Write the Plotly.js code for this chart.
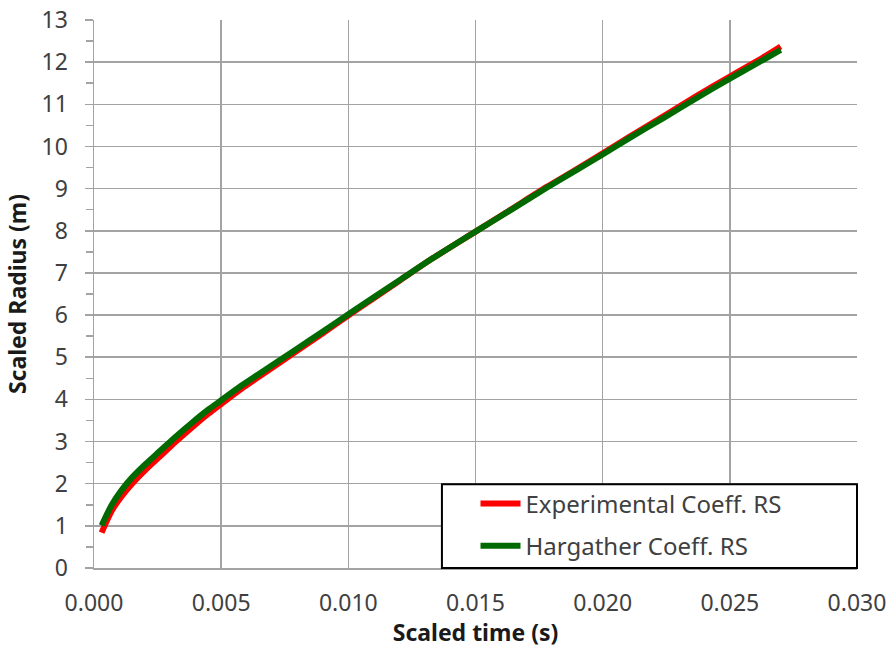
<!DOCTYPE html>
<html>
<head>
<meta charset="utf-8">
<script src="https://cdn.plot.ly/plotly-3.0.1.min.js"></script>
<style>html,body{margin:0;padding:0;background:#fff;}#chart{width:892px;height:648px;}</style>
</head>
<body>
<div id="chart"></div>
<script>
// Scaled time (s)
var timeS = [0.0003, 0.0007, 0.0011, 0.0015, 0.0020, 0.0026, 0.0032, 0.0039, 0.0045, 0.0050, 0.0058, 0.0065, 0.0080, 0.0090, 0.0100, 0.0110, 0.0120, 0.0133, 0.0150, 0.0163, 0.0178, 0.0190, 0.0200, 0.0210, 0.0224, 0.0237, 0.0250, 0.0263, 0.0270];
// Scaled radius (m) - Experimental Coeff. RS
var experimentalRS = [0.84, 1.36, 1.71, 2.00, 2.31, 2.65, 2.99, 3.36, 3.66, 3.89, 4.25, 4.54, 5.16, 5.57, 5.99, 6.40, 6.81, 7.34, 7.98, 8.47, 9.04, 9.47, 9.84, 10.21, 10.72, 11.20, 11.66, 12.11, 12.37];
// Scaled radius (m) - Hargather Coeff. RS
var hargatherRS = [1.01, 1.50, 1.86, 2.15, 2.45, 2.78, 3.11, 3.47, 3.76, 3.98, 4.33, 4.61, 5.21, 5.61, 6.02, 6.42, 6.82, 7.34, 7.98, 8.46, 9.02, 9.45, 9.81, 10.18, 10.68, 11.15, 11.61, 12.05, 12.29];
var seriesNames = ["Experimental Coeff. RS", "Hargather Coeff. RS"];
var xTickVals = [0, 0.005, 0.010, 0.015, 0.020, 0.025, 0.030];
var xTickText = ["0.000", "0.005", "0.010", "0.015", "0.020", "0.025", "0.030"];

var FONT = "Noto Sans, Open Sans, sans-serif";
var GRID = "#a3a3a3";

var traces = [
  {x: timeS, y: experimentalRS, name: seriesNames[0], mode: "lines", legendgroup: "a",
   line: {color: "#ff0000", width: 6, shape: "spline", smoothing: 0.8}},
  {x: timeS, y: hargatherRS, name: seriesNames[1], mode: "lines", legendgroup: "b",
   line: {color: "#006a00", width: 6, shape: "spline", smoothing: 0.8}}
];

var layout = {
  width: 892, height: 648,
  margin: {l: 94, r: 35, t: 20, b: 80},
  paper_bgcolor: "#ffffff", plot_bgcolor: "#ffffff",
  font: {family: FONT, color: "#404040", size: 23},
  showlegend: true,
  xaxis: {
    range: [0, 0.030], tickvals: xTickVals, ticktext: xTickText,
    showgrid: true, gridcolor: GRID, gridwidth: 1.5,
    showline: true, linecolor: GRID, linewidth: 1.5,
    ticks: "", ticklabelstandoff: 14, zeroline: false, mirror: false,
    tickfont: {family: FONT, size: 23, color: "#404040"},
    title: {text: "<b>Scaled time (s)</b>", font: {family: FONT, size: 23, color: "#1a1a1a"}, standoff: 4}
  },
  yaxis: {
    range: [0, 13], dtick: 1, tick0: 0,
    showgrid: true, gridcolor: GRID, gridwidth: 1.5,
    showline: true, linecolor: GRID, linewidth: 1.5,
    ticks: "outside", ticklen: 8, tickcolor: GRID, tickwidth: 1.5, ticklabelstandoff: 12,
    minor: {dtick: 0.5, ticks: "outside", ticklen: 7, tickcolor: GRID, tickwidth: 1.5, showgrid: false},
    zeroline: false,
    tickfont: {family: FONT, size: 23, color: "#404040"},
    title: {text: "<b>Scaled Radius (m)</b>", font: {family: FONT, size: 23, color: "#1a1a1a"}, standoff: 8}
  },
  shapes: [
    {type: "rect", xref: "paper", yref: "paper", x0: 0.456, x1: 1, y0: 0, y1: 0.153,
     line: {color: "#000000", width: 2}, fillcolor: "#ffffff", layer: "above"}
  ],
  legend: {
    x: 0.50, y: 0.158, xanchor: "left", yanchor: "top",
    bgcolor: "rgba(0,0,0,0)", borderwidth: 0,
    font: {family: FONT, size: 24, color: "#404040"},
    tracegroupgap: 8, itemwidth: 40
  }
};

Plotly.newPlot("chart", traces, layout, {displayModeBar: false, staticPlot: true});
</script>
</body>
</html>
